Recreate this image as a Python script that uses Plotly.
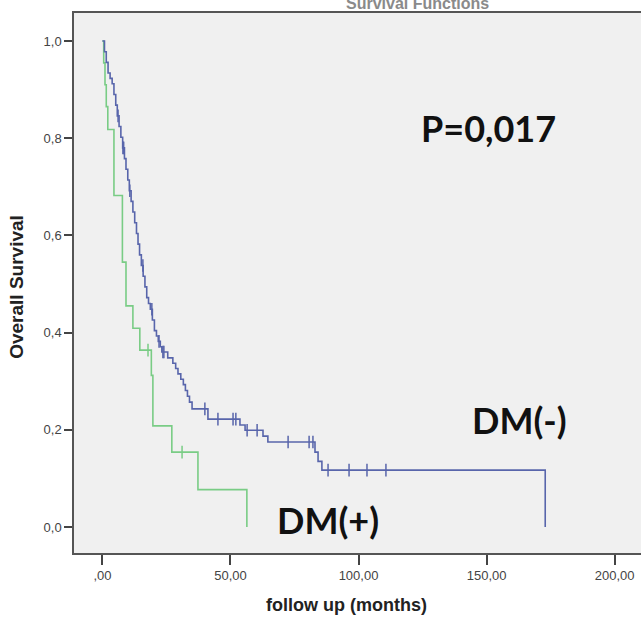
import plotly.graph_objects as go
import numpy as np

# ---- data ----
green_t = [0, 0.5, 1.0, 1.5, 2.1, 4.5, 7.8, 9.2, 11.9, 14.6, 19.1, 19.7, 27.1, 37.3, 56.4]
green_s = [1.0, 0.955, 0.91, 0.865, 0.818, 0.682, 0.545, 0.455, 0.409, 0.364, 0.312, 0.208, 0.154, 0.077, 0.0]
green_censor_t = [17.8, 31.1]

blue_t = [0, 0.8, 1.5, 2.2, 3.0, 3.8, 4.5, 5.2, 5.8, 6.5, 7.2, 7.9, 8.6, 9.2, 9.9, 10.5,
          11.2, 11.9, 12.6, 13.3, 13.9, 14.5, 15.2, 15.9, 16.6, 17.3, 18.0, 18.7, 19.5,
          20.3, 21.1, 21.8, 22.6, 23.2, 25.5, 27.5, 28.6, 29.5, 30.6, 31.6, 32.4, 33.2,
          34.0, 35.0, 41.2, 53.7, 55.7, 62.7, 64.6, 83.0, 84.2, 85.7, 172.9]
blue_s = [1.0, 0.978, 0.956, 0.934, 0.923, 0.912, 0.890, 0.868, 0.846, 0.824, 0.802, 0.780,
          0.758, 0.736, 0.714, 0.692, 0.670, 0.648, 0.626, 0.604, 0.582, 0.560, 0.538, 0.516,
          0.494, 0.472, 0.460, 0.448, 0.426, 0.404, 0.393, 0.382, 0.371, 0.360, 0.348, 0.337,
          0.326, 0.315, 0.304, 0.293, 0.281, 0.269, 0.257, 0.243, 0.222, 0.210, 0.199, 0.187,
          0.175, 0.154, 0.135, 0.117, 0.0]
blue_censor_t = [6.1, 8.0, 8.3, 10.7, 15.8, 19.3, 22.1, 23.6, 24.0, 40.0, 45.1, 51.0, 52.1,
                 56.5, 60.4, 72.5, 80.7, 82.2, 88.1, 96.3, 103.3, 110.7]

x_tickvals = [0, 50, 100, 150, 200]
x_ticktext = [",00", "50,00", "100,00", "150,00", "200,00"]
y_tickvals = [0.0, 0.2, 0.4, 0.6, 0.8, 1.0]
y_ticktext = ["0,0", "0,2", "0,4", "0,6", "0,8", "1,0"]

GREEN = "#79cc85"
BLUE = "#5865ab"


def step_at(ts, ss, t):
    idx = np.searchsorted(np.array(ts), t, side="right") - 1
    return ss[max(idx, 0)]


fig = go.Figure()
fig.add_trace(go.Scatter(x=green_t, y=green_s, mode="lines", line=dict(color=GREEN, width=1.6, shape="hv"),
                         showlegend=False, hoverinfo="skip"))
fig.add_trace(go.Scatter(x=blue_t, y=blue_s, mode="lines", line=dict(color=BLUE, width=1.6, shape="hv"),
                         showlegend=False, hoverinfo="skip"))
fig.add_trace(go.Scatter(x=green_censor_t, y=[step_at(green_t, green_s, t) for t in green_censor_t],
                         mode="markers", marker=dict(symbol="line-ns", size=9, line=dict(color=GREEN, width=1.5)),
                         showlegend=False, hoverinfo="skip"))
fig.add_trace(go.Scatter(x=blue_censor_t, y=[step_at(blue_t, blue_s, t) for t in blue_censor_t],
                         mode="markers", marker=dict(symbol="line-ns", size=9, line=dict(color=BLUE, width=1.5)),
                         showlegend=False, hoverinfo="skip"))

big = dict(family="Lato, Open Sans, Arial", size=36, color="#111111")
fig.add_annotation(x=150.6, y=0.82, text="<b>P=0,017</b>", showarrow=False, font=big)
fig.add_annotation(x=163, y=0.221, text="<b>DM(-)</b>", showarrow=False, font=big)
fig.add_annotation(x=88, y=0.014, text="<b>DM(+)</b>", showarrow=False, font=big)

fig.add_annotation(xref="paper", yref="paper", x=0.605, y=1.0185, yanchor="middle",
                   text="<b>Survival Functions</b>", showarrow=False,
                   font=dict(family="Arial", size=16, color="#8a8a8a"))
fig.add_annotation(xref="paper", yref="paper", x=0.481, y=-0.0963, yanchor="middle",
                   text="<b>follow up (months)</b>", showarrow=False,
                   font=dict(family="Arial", size=18, color="#222222"))
fig.add_annotation(xref="paper", yref="paper", x=-0.1005, y=0.493, xanchor="center", yanchor="middle",
                   textangle=-90, text="<b>Overall Survival</b>", showarrow=False,
                   font=dict(family="Arial", size=19, color="#222222"))

fig.update_xaxes(range=[-11.1, 210.3], tickvals=x_tickvals, ticktext=x_ticktext, ticks="outside",
                 ticklen=10, tickwidth=1.5, tickcolor="#444", showgrid=False, zeroline=False,
                 showline=True, mirror=True, linecolor="#555", linewidth=1.5, automargin=False,
                 tickfont=dict(family="Arial", size=13, color="#444"))
fig.update_yaxes(range=[-0.0535, 1.0576], tickvals=y_tickvals, ticktext=y_ticktext, ticks="outside",
                 ticklen=8, tickwidth=1.5, tickcolor="#444", showgrid=False, zeroline=False,
                 showline=True, mirror=True, linecolor="#555", linewidth=1.5, automargin=False,
                 tickfont=dict(family="Arial", size=13, color="#444"))

fig.update_layout(width=641, height=619, margin=dict(l=74, r=0, t=13, b=66),
                  plot_bgcolor="#f0f0f0", paper_bgcolor="white")

fig.write_html("out.html", config={"displayModeBar": False},
               post_script="document.body.style.margin='0';document.body.style.overflow='hidden';")
